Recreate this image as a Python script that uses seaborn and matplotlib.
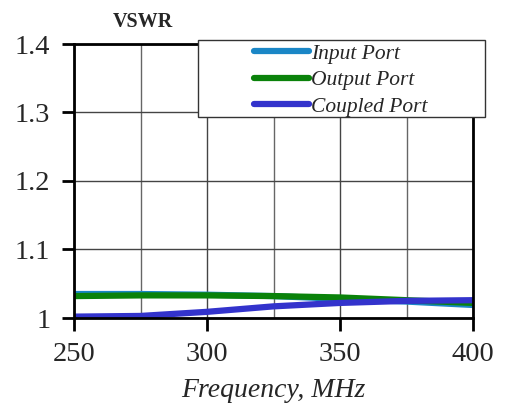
import matplotlib
matplotlib.use('Agg')
import matplotlib.pyplot as plt
import seaborn as sns
import pandas as pd
from matplotlib.ticker import MultipleLocator
from matplotlib.patches import Rectangle

freq = [250, 275, 300, 325, 350, 375, 400]
input_port = [1.035, 1.035, 1.034, 1.032, 1.028, 1.024, 1.019]
output_port = [1.032, 1.033, 1.033, 1.032, 1.030, 1.026, 1.022]
coupled_port = [1.002, 1.003, 1.009, 1.017, 1.022, 1.025, 1.026]

data = pd.DataFrame({
  'freq': freq * 3,
  'vswr': input_port + output_port + coupled_port,
  'port': ['Input Port'] * 7 + ['Output Port'] * 7 + ['Coupled Port'] * 7,
})

sns.set_style('white')
plt.rcParams['font.family'] = ['Liberation Serif', 'DejaVu Serif']

W, H = 509, 417
fig = plt.figure(figsize=(W / 100, H / 100), dpi=100)
ax = fig.add_axes([74 / W, 1 - 318 / H, 399 / W, 274 / H])

palette = {'Input Port': '#1a86c6', 'Output Port': '#0a820a', 'Coupled Port': '#3333cc'}
sns.lineplot(data=data, x='freq', y='vswr', hue='port', palette=palette, linewidth=4.5, ax=ax, legend=False)

ax.set_xlim(250, 400)
ax.set_ylim(1.0, 1.4)
ax.xaxis.set_major_locator(MultipleLocator(50))
ax.xaxis.set_minor_locator(MultipleLocator(25))
ax.set_yticks([1.0, 1.1, 1.2, 1.3, 1.4])
ax.set_yticklabels(['1', '1.1', '1.2', '1.3', '1.4'])
ax.grid(True, which='major', color='#444444', linewidth=1)
ax.grid(True, which='minor', axis='x', color='#666666', linewidth=1)
ax.tick_params(which='major', direction='out', length=9, width=2, labelsize=20.5, color='black', pad=8,
               left=True, bottom=True)
ax.tick_params(which='minor', length=0)
for s in ax.spines.values():
  s.set_linewidth(2)
  s.set_color('black')

ax.set_xlabel('Frequency, MHz', fontsize=20, style='italic', labelpad=8)
ax.set_ylabel('')
fig.text(143 / W, 1 - 22 / H, 'VSWR', fontsize=14.5, fontweight='bold', ha='center', va='center')

# legend frame drawn separately, contents centred inside it
frame = Rectangle((198 / W, 1 - 117 / H), 287 / W, 77 / H, transform=fig.transFigure,
                  facecolor='white', edgecolor='#333333', linewidth=1, zorder=5)
fig.add_artist(frame)
handles = [plt.Line2D([], [], color=palette[k], linewidth=4.5, solid_capstyle='round') for k in palette]
leg = fig.legend(handles, list(palette.keys()), loc='center',
                 bbox_to_anchor=(341 / W, 1 - 80 / H),
                 prop={'style': 'italic', 'size': 15.5}, frameon=False,
                 handlelength=2.55, handletextpad=0.1,
                 labelspacing=0.3, borderpad=0, borderaxespad=0)
leg.set_zorder(6)

fig.savefig('out.png', dpi=100)
